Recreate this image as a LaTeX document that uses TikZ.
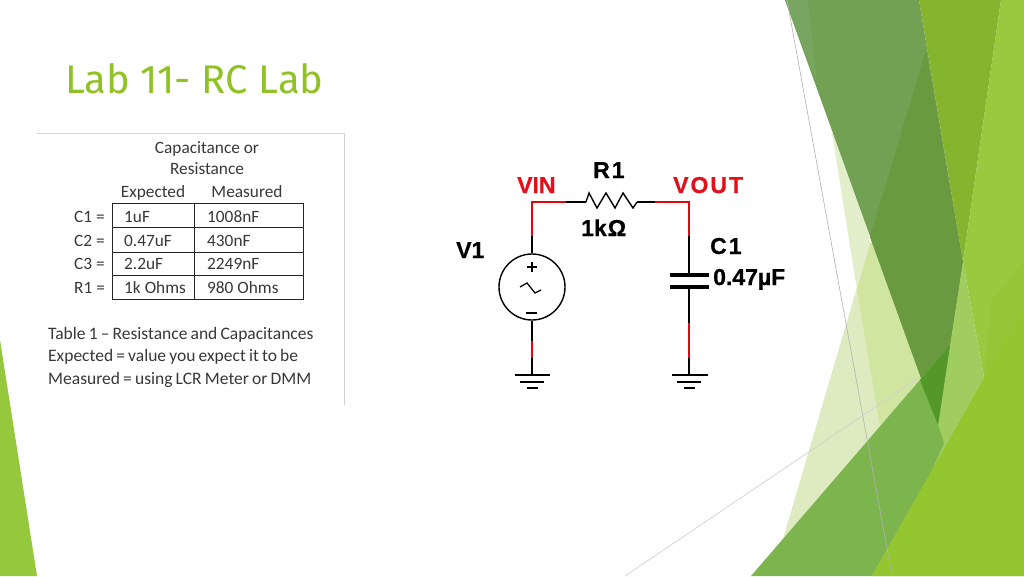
\documentclass[tikz,border=0pt]{standalone}
\usepackage{fontspec}
\setmainfont{Carlito}
\newfontfamily\capfont{Carlito}[WordSpace=0.8]
\newfontfamily\titlefont{Fira Sans}
\newfontfamily\cktfont{Liberation Sans Bold}[FakeBold=0.6]
\begin{document}
\begin{tikzpicture}[x=1pt,y=-1pt,
  tabtext/.style={inner sep=0pt,anchor=base west,text=black!78,font=\fontsize{17.3}{19}\selectfont},
  tabmid/.style={tabtext,anchor=base},
  captext/.style={tabtext,font=\capfont\fontsize{17.5}{19}\selectfont},
  ckt/.style={inner sep=0pt,anchor=base west,font=\cktfont\fontsize{23}{25}\selectfont},
  probe/.style={ckt,text={rgb,255:red,226;green,16;blue,26}},
  blackwire/.style={draw=black,line width=2pt},
  redwire/.style={draw={rgb,255:red,224;green,8;blue,16},line width=2pt},
  gridline/.style={draw=black!85,line width=1pt},
  thingrey/.style={draw=black!30,line width=.6pt},
  thinpale/.style={draw=black!18,line width=.7pt}]
\definecolor{gH}{HTML}{DEEBC0}
\definecolor{gP}{HTML}{E3EFCB}
\definecolor{gOv}{HTML}{D0E5A0}
\definecolor{gA}{HTML}{72A154}
\definecolor{gAs}{HTML}{78A55F}
\definecolor{gAd}{HTML}{6A9A40}
\definecolor{gB}{HTML}{85B42F}
\definecolor{gL}{HTML}{A0CC60}
\definecolor{gE}{HTML}{98C93E}
\definecolor{gEm}{HTML}{95C637}
\definecolor{gC}{HTML}{93C62F}
\definecolor{gF}{HTML}{7CB54E}
\definecolor{gT}{HTML}{54982A}
\definecolor{gS}{HTML}{95C83C}
\definecolor{titlegreen}{HTML}{90C226}
\useasboundingbox (0,0) rectangle (1024,576);
\fill[white] (0,0) rectangle (1024,576);
% backdrop shapes
\fill[gS] (0,340) -- (37,576) -- (0,576) -- cycle;
\fill[gH] (870,243) -- (783,539) -- (880,426) -- (950,345) -- (940,240) -- cycle;
\fill[gP] (832,133) -- (857,290) -- (870,243) -- (860,150) -- cycle;
\fill[gOv] (870,243) -- (857,290) -- (880,426) -- (950,345) -- (930,240) -- cycle;
\fill[gA] (785,0) -- (919,0) -- (963,262) -- (938,425) -- cycle;
\fill[gAs] (785,0) -- (808,0) -- (817,83) -- cycle;
\fill[gAd] (926,50) -- (963,262) -- (938,425) -- (870,237) -- cycle;
\fill[gB] (919,0) -- (1001,0) -- (963,262) -- cycle;
\fill[gE] (1001,0) -- (1024,0) -- (1024,576) -- (872,576) -- (984,377) -- (963,262) -- cycle;
\fill[gEm] (1024,262) -- (992,299) -- (984,377) -- (1024,310) -- cycle;
\fill[gL] (963,262) -- (984,377) -- (932,470) -- (938,425) -- cycle;
\fill[gF] (751,576) -- (950,345) -- (938,425) -- (944,443) -- (932,470) -- (872,576) -- cycle;
\fill[gT] (920,380) -- (950,345) -- (938,425) -- cycle;
\fill[gC] (1024,308) -- (872,576) -- (1024,576) -- cycle;
\draw[thingrey] (787,0) -- (892,576);
\draw[thinpale] (625,576) -- (920,377);
% title
\node[inner sep=0pt,anchor=base west,text=titlegreen,font=\titlefont\fontsize{40}{42}\selectfont] (title) at (65,93) {Lab 11- RC Lab};
% table picture frame
\draw[black!18,line width=1pt] (37,133) -- (344,133) -- (344,405);
% table text
\node[tabmid] (hcap) at (207,153) {Capacitance or};
\node[tabmid] (hres) at (207,174) {Resistance};
\node[tabmid] (hexp) at (153,197) {Expected};
\node[tabmid] (hmea) at (247,197) {Measured};
\node[tabtext] (l1) at (74,222) {C1 =};
\node[tabtext] (l2) at (74,246) {C2 =};
\node[tabtext] (l3) at (74,269) {C3 =};
\node[tabtext] (l4) at (74,293) {R1 =};
\node[tabtext] (e1) at (124,222) {1uF};
\node[tabtext] (e2) at (124,246) {0.47uF};
\node[tabtext] (e3) at (124,269) {2.2uF};
\node[tabtext] (e4) at (124,293) {1k Ohms};
\node[tabtext] (m1) at (207,222) {1008nF};
\node[tabtext] (m2) at (207,246) {430nF};
\node[tabtext] (m3) at (207,269) {2249nF};
\node[tabtext] (m4) at (207,293) {980 Ohms};
\draw[gridline] (112,203) rectangle (303,299);
\draw[gridline] (194,203) -- (194,299);
\draw[gridline] (112,227) -- (303,227);
\draw[gridline] (112,252) -- (303,252);
\draw[gridline] (112,275) -- (303,275);
\node[captext] (c1) at (48,339) {Table 1 – Resistance and Capacitances};
\node[captext] (c2) at (48,361) {Expected = value you expect it to be};
\node[captext] (c3) at (48,384) {Measured = using LCR Meter or DMM};
% circuit
\node[draw=black,line width=1.4pt,circle,minimum size=66pt,inner sep=0pt] (src) at (532,287) {};
\coordinate (a1) at (532,236); \coordinate (a2) at (532,202); \coordinate (a3) at (566,202);
\coordinate (r0) at (586,202); \coordinate (r1) at (637,202);
\coordinate (b1) at (655,202); \coordinate (b2) at (689,202); \coordinate (b3) at (689,236);
\coordinate (b4) at (689,275); \coordinate (b5) at (689,287); \coordinate (b6) at (689,323);
\coordinate (b7) at (689,358); \coordinate (gr) at (689,375);
\coordinate (s1) at (532,341); \coordinate (s2) at (532,358); \coordinate (gl) at (532,375);
\draw[blackwire] (src.north) -- (a1);
\draw[redwire] (a1) -- (a2) -- (a3);
\draw[blackwire] (a3) -- (r0);
\draw[black,line width=1.4pt] (r0) -- (589,193) -- (597,208) -- (606,193) -- (615,208) -- (623,193) -- (633,208) -- (r1);
\draw[blackwire] (r1) -- (b1);
\draw[redwire] (b1) -- (b2) -- (b3);
\draw[blackwire] (b3) -- (b4);
\draw[black,line width=4pt] (670,275) -- (709,275);
\draw[black,line width=4pt] (670,287) -- (709,287);
\draw[blackwire] (b5) -- (b6);
\draw[redwire] (b6) -- (b7);
\draw[blackwire] (b7) -- (gr);
\draw[blackwire] (src.south) -- (s1);
\draw[redwire] (s1) -- (s2);
\draw[blackwire] (s2) -- (gl);
\draw[black,line width=2pt] (515,375) -- (550,375) (520,382) -- (544,382) (527,388) -- (538,388);
\draw[black,line width=2pt] (672,375) -- (708,375) (677,382) -- (701,382) (684,388) -- (695,388);
\draw[black,line width=2pt] (527,267) -- (537,267) (532,262) -- (532,272);
\draw[black,line width=2pt] (526,313) -- (537,313);
\draw[black,line width=1.2pt] (520,287) -- (527,283) -- (535,293) -- (541,290);
\node[probe] (vin) at (517,193) {VIN};
\node[probe] (vout) at (673,193) {V\kern2pt O\kern2pt U\kern2pt T};
\node[ckt] (rn) at (593,178) {R\kern2pt 1};
\node[ckt] (rv) at (581,236) {1k\kern1pt Ω};
\node[ckt] (vn) at (456,258) {V1};
\node[ckt] (cn) at (710,254) {C\kern2pt 1};
\node[ckt] (cv) at (713,285) {0.47µF};
\end{tikzpicture}
\end{document}
